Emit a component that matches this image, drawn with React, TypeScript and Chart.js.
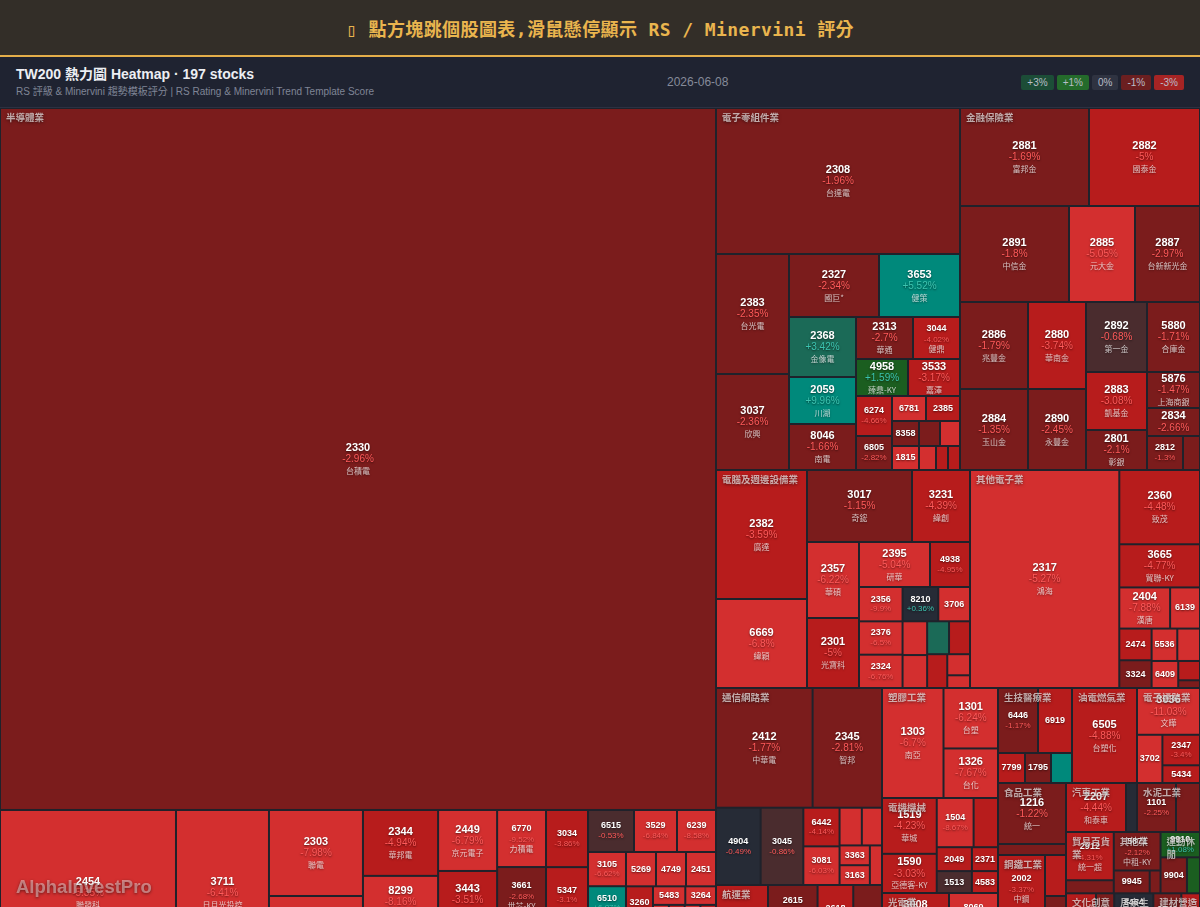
import React, { useEffect, useRef } from 'react';
import { Chart, registerables } from 'chart.js';

Chart.register(...registerables);

const TREE_W = 1200;
const TREE_H = 868;

const sectorNames = ['半導體業', '電子零組件業', '金融保險業', '電腦及週邊設備業', '其他電子業', '通信網路業', '航運業', '塑膠工業', '電機機械', '光電業', '生技醫療業', '油電燃氣業', '電子通路業', '食品工業', '鋼鐵工業', '紡織纖維', '汽車工業', '水泥工業', '貿易百貨業', '其他業', '運動休閒', '文化創意業', '化學工業', '居家生活', '玻璃陶瓷', '建材營造業', '觀光餐旅', '造紙工業'];
const sectorCounts = [47, 23, 17, 20, 12, 11, 7, 3, 8, 5, 5, 1, 4, 2, 3, 3, 2, 2, 2, 3, 3, 2, 2, 2, 1, 2, 2, 1];

const stockCodes = [
  // 半導體業
  '2330', '2454', '3711', '2303', '2379', '2344', '8299', '2408', '2449', '3443', '5274', '6770', '3661', '6488', '3034', '5347', '6415', '6515', '3529', '6239', '3105', '6510', '2337', '3583', '5269', '4749', '2451', '3260', '6147', '2441', '5483', '3264', '8016', '3227', '4966', '6462', '2388', '6104', '3006', '4919', '3035', '6533', '3131', '6187', '6643', '2436', '5285',
  // 電子零組件業
  '2308', '2383', '3037', '2327', '3653', '2368', '2059', '8046', '2313', '3044', '4958', '3533', '6274', '6805', '6781', '2385', '8358', '1815', '2492', '3376', '6213', '2456', '3023',
  // 金融保險業
  '2881', '2882', '2891', '2885', '2887', '2886', '2884', '2880', '2890', '2892', '5880', '2883', '2801', '5876', '2834', '2812', '2889',
  // 電腦及週邊設備業
  '2382', '6669', '3017', '3231', '2357', '2301', '2395', '4938', '2356', '2376', '2324', '8210', '3706', '2353', '2377', '6414', '3515', '3005', '2352', '2362',
  // 其他電子業
  '2317', '2360', '3665', '2404', '6139', '2474', '3324', '5536', '6196', '6409', '3289', '8215',
  // 通信網路業
  '2412', '2345', '4904', '3045', '6442', '3081', '4977', '3596', '3363', '3163', '6285',
  // 航運業
  '2603', '2615', '2609', '2618', '2610', '2606', '2637',
  // 塑膠工業
  '1303', '1301', '1326',
  // 電機機械
  '1519', '1590', '1504', '1503', '2049', '1513', '2371', '4583',
  // 光電業
  '3008', '2409', '8069', '3481', '6176',
  // 生技醫療業
  '6446', '6919', '7799', '1795', '6472',
  // 油電燃氣業
  '6505',
  // 電子通路業
  '3036', '3702', '2347', '5434',
  // 食品工業
  '1216', '1210',
  // 鋼鐵工業
  '2002', '2027', '2014',
  // 紡織纖維
  '1476', '1402', '1477',
  // 汽車工業
  '2207', '2201',
  // 水泥工業
  '1101', '1102',
  // 貿易百貨業
  '2912', '8454',
  // 其他業
  '5871', '9945', '9941',
  // 運動休閒
  '9910', '9904', '9914',
  // 文化創意業
  '3293', '5478',
  // 化學工業
  '1722', '1717',
  // 居家生活
  '8464', '9911',
  // 玻璃陶瓷
  '1802',
  // 建材營造業
  '2542', '5522',
  // 觀光餐旅
  '2707', '2727',
  // 造紙工業
  '1907',
];

const stockNames = [
  '台積電', '聯發科', '日月光投控', '聯電', '瑞昱', '華邦電', '群聯', '南亞科', '京元電子', '創意', '信驊', '力積電', '世芯-KY', '環球晶', '聯詠', '世界', '矽力*-KY', '穎崴', '力旺', '力成', '穩懋', '精測', '旺宏', '辛耘', '祥碩', '新應材', '創見', '威剛', '頎邦', '超豐', '中美晶', '欣銓', '矽創', '原相', '譜瑞-KY', '神盾', '威盛', '創惟', '晶豪科', '新唐', '智原', '晶心科', '弘塑', '萬潤', 'M31', '偉詮電', '界霖',
  '台達電', '台光電', '欣興', '國巨*', '健策', '金像電', '川湖', '南電', '華通', '健鼎', '臻鼎-KY', '嘉澤', '台燿', '富世達', 'AES-KY', '群光', '金居', '富喬', '華新科', '新日興', '聯茂', '奇力新', '信邦',
  '富邦金', '國泰金', '中信金', '元大金', '台新新光金', '兆豐金', '玉山金', '華南金', '永豐金', '第一金', '合庫金', '凱基金', '彰銀', '上海商銀', '臺企銀', '台中銀', '國票金',
  '廣達', '緯穎', '奇鋐', '緯創', '華碩', '光寶科', '研華', '和碩', '英業達', '技嘉', '仁寶', '勤誠', '神達', '宏碁', '微星', '樺漢', '華擎', '神基', '佳世達', '藍天',
  '鴻海', '致茂', '貿聯-KY', '漢唐', '亞翔', '可成', '雙鴻', '聖暉*', '帆宣', '旭隼', '宜特', '明基材',
  '中華電', '智邦', '遠傳', '台灣大', '光聖', '聯亞', '眾達-KY', '智易', '上詮', '波若威', '啟碁',
  '長榮', '萬海', '陽明', '長榮航', '華航', '裕民', '慧洋-KY',
  '南亞', '台塑', '台化',
  '華城', '亞德客-KY', '東元', '士電', '上銀', '中興電', '大同', '台灣精銳',
  '大立光', '友達', '元太', '群創', '瑞儀',
  '藥華藥', '康霈*', '禾榮科', '美時', '保瑞',
  '台塑化',
  '文曄', '大聯大', '聯強', '崇越',
  '統一', '大成',
  '中鋼', '大成鋼', '中鴻',
  '儒鴻', '遠東新', '聚陽',
  '和泰車', '裕隆',
  '台泥', '亞泥',
  '統一超', '富邦媒',
  '中租-KY', '潤泰新', '裕融',
  '豐泰', '寶成', '美利達',
  '鈊象', '智冠',
  '台肥', '長興',
  '億豐', '櫻花',
  '台玻',
  '興富發', '遠雄',
  '晶華', '王品',
  '永豐餘',
];

const stockCap = [
  502623, 29216, 15438, 8084, 7520, 4950, 3900, 3620, 3599, 3400, 2800, 2790, 2780, 2548, 2400, 2350, 2222, 1932, 1806, 1638, 1300, 1290, 1070, 1050, 1030, 1030, 1030, 864, 790, 766, 600, 570, 305, 304, 302, 300, 300, 299, 299, 298, 298, 297, 296, 296, 296, 296, 296,
  35624, 8760, 7008, 5670, 5103, 4020, 3149, 3082, 2394, 1974, 1925, 1924, 1440, 1224, 850, 850, 675, 648, 525, 500, 408, 288, 288,
  12642, 10878, 10464, 6336, 6240, 5916, 5508, 5046, 4698, 4270, 3710, 3538, 2440, 1908, 1484, 1224, 578,
  11739, 8099, 7560, 4176, 3952, 3640, 3195, 1800, 1496, 1452, 1452, 1224, 1088, 830, 810, 720, 690, 680, 480, 289,
  32546, 5994, 3483, 2091, 1230, 1024, 896, 832, 736, 720, 420, 168,
  11565, 8307, 3450, 3300, 1400, 1400, 840, 760, 600, 600, 480,
  4732, 2450, 2060, 2050, 1650, 1100, 1064,
  6766, 3294, 2700,
  3056, 2145, 1813, 1200, 840, 770, 624, 572,
  3015, 2546, 2352, 1000, 715,
  2600, 2210, 810, 780, 630,
  6175,
  2947, 1225, 1147, 666,
  4148, 748,
  3102, 861, 525,
  1500, 1300, 940,
  2940, 539,
  1911, 1176,
  2304, 624,
  1800, 820, 247,
  1000, 950, 470,
  1400, 850,
  900, 834,
  1100, 600,
  1537,
  900, 600,
  800, 600,
  960,
];

const stockChange = [
  -2.96, -5.35, -6.41, -7.98, -5.62, -4.94, -8.16, -6.93, -6.79, -3.51, -4.21, -9.52, -2.68, -4.57, -3.86, -3.1, -5.48, -0.53, -6.84, -8.58, -6.62, 6.87, -5.91, -4.62, -7.12, -6.25, -5.43, -4.52, -4.13, -3.82, -6.04, -5.33, -5.2, -3.9, -6.1, -4.4, -2.7, -5.6, -4.8, -3.3, -6.7, -5.1, -7.4, -4.2, -3.6, -2.9, -5.8,
  -1.96, -2.35, -2.36, -2.34, 5.52, 3.42, 9.96, -1.66, -2.7, -4.02, 1.59, -3.17, -4.66, -2.82, -5.61, -4.3, -2.52, -6.1, -2.2, -5.5, -5.8, -3.9, -4.1,
  -1.69, -5, -1.8, -5.05, -2.97, -1.79, -1.35, -3.74, -2.45, -0.68, -1.71, -3.08, -2.1, -1.47, -2.66, -1.3, -1.92,
  -3.59, -6.8, -1.15, -4.39, -6.22, -5, -5.04, -4.95, -9.9, -6.5, -6.76, 0.36, -5.31, -5.62, -6.14, 3.61, -4.22, -3.93, -5.84, -5.2,
  -5.27, -4.48, -4.77, -7.88, -8.42, -4.1, -2.31, -6.7, -5.93, -5.12, -4.4, -2.05,
  -1.77, -2.81, -0.49, -0.86, -4.14, -6.03, -6.52, -5.71, -5.93, -5.24, -5.41,
  -3.62, -1.74, -2.18, -3.27, -2.45, -1.88, -2.9,
  -6.7, -6.24, -7.67,
  -4.23, -3.03, -8.67, -4.81, -4.35, -0.79, -4.62, -4.95,
  -4.05, -2.6, -5.52, -3.9, -3.2,
  -1.17, -4.52, -4.26, -2.38, 6.12,
  -4.88,
  -11.03, -5.81, -3.4, -4.12,
  -1.22, -1.64,
  -3.37, -4.31, -2.14,
  -3.21, -2.47, -4.1,
  -4.44, -0.21,
  -2.25, -1.93,
  -4.31, -2.41,
  -2.12, -1.85, -2.6,
  1.08, -2.33, 2.1,
  -3.9, -2.4,
  -1.8, -2.6,
  -0.31, -1.5,
  -4.0,
  -2.7, -3.5,
  -1.2, -2.2,
  -2.0,
];

const legendLabels = ['+3%', '+1%', '0%', '-1%', '-3%'];
const legendColors = ['#1c4d37', '#246b2b', '#2f3341', '#6b1f20', '#a62424'];

const GAP = 1;
const NUM_FONT = '"Liberation Sans", Arial, sans-serif';
const CJK_FONT = '"Noto Sans CJK TC", "Liberation Sans", sans-serif';

type Node = { value: number; idx: number; x0: number; y0: number; x1: number; y1: number; leaves?: Node[] };

function squarify(nodes: Node[], x0: number, y0: number, x1: number, y1: number) {
  let value = nodes.reduce((s, n) => s + n.value, 0);
  let i0 = 0;
  let i1 = 0;
  const n = nodes.length;
  while (i0 < n) {
    const dx = x1 - x0;
    const dy = y1 - y0;
    let sumValue = 0;
    do { sumValue = nodes[i1++].value; } while (!sumValue && i1 < n);
    let minValue = sumValue;
    let maxValue = sumValue;
    const alpha = Math.max(dy / dx, dx / dy) / value;
    let beta = sumValue * sumValue * alpha;
    let minRatio = Math.max(maxValue / beta, beta / minValue);
    for (; i1 < n; ++i1) {
      const nv = nodes[i1].value;
      sumValue += nv;
      if (nv < minValue) minValue = nv;
      if (nv > maxValue) maxValue = nv;
      beta = sumValue * sumValue * alpha;
      const newRatio = Math.max(maxValue / beta, beta / minValue);
      if (newRatio > minRatio) { sumValue -= nv; break; }
      minRatio = newRatio;
    }
    const row = nodes.slice(i0, i1);
    if (dx < dy) {
      const ny = value ? y0 + (dy * sumValue) / value : y1;
      let cx = x0;
      const k = (x1 - x0) / sumValue;
      row.forEach((nd) => { nd.y0 = y0; nd.y1 = ny; nd.x0 = cx; cx += nd.value * k; nd.x1 = cx; });
      y0 = ny;
    } else {
      const nx = value ? x0 + (dx * sumValue) / value : x1;
      let cy = y0;
      const k = (y1 - y0) / sumValue;
      row.forEach((nd) => { nd.x0 = x0; nd.x1 = nx; nd.y0 = cy; cy += nd.value * k; nd.y1 = cy; });
      x0 = nx;
    }
    value -= sumValue;
    i0 = i1;
  }
}

function buildLayout(): Node[] {
  const groups: Node[] = [];
  let k = 0;
  sectorNames.forEach((_, s) => {
    const leaves: Node[] = [];
    for (let i = 0; i < sectorCounts[s]; i++, k++) {
      leaves.push({ value: stockCap[k], idx: k, x0: 0, y0: 0, x1: 0, y1: 0 });
    }
    leaves.sort((a, b) => b.value - a.value);
    groups.push({ value: leaves.reduce((a, b) => a + b.value, 0), idx: s, x0: 0, y0: 0, x1: 0, y1: 0, leaves });
  });
  groups.sort((a, b) => b.value - a.value);
  squarify(groups, 0, 0, TREE_W, TREE_H);
  groups.forEach((g) => squarify(g.leaves!, g.x0, g.y0, g.x1, g.y1));
  return groups;
}

function colorFor(p: number) {
  if (p >= 5) return '#00897b';
  if (p >= 3) return '#1b6a57';
  if (p >= 0.5) return '#1b5e20';
  if (p > -0.5) return '#262b36';
  if (p > -1) return '#4a2c2e';
  if (p > -3) return '#7b1c1c';
  if (p >= -5) return '#b71c1c';
  return '#d32f2f';
}

function pctText(p: number) {
  return `${p > 0 ? '+' : ''}${p}%`;
}

const treemapPlugin = {
  id: 'treemapCells',
  beforeDraw(chart: any) {
    const { ctx, width, height } = chart;
    ctx.save();
    ctx.fillStyle = '#1f222b';
    ctx.fillRect(0, 0, width, height);
    ctx.restore();
  },
  afterDatasetsDraw(chart: any) {
    const ctx: CanvasRenderingContext2D = chart.ctx;
    const xs = chart.scales.x;
    const ys = chart.scales.y;
    const groups = buildLayout();
    const toPx = (nd: Node) => {
      const X0 = xs.getPixelForValue(nd.x0);
      const X1 = xs.getPixelForValue(nd.x1);
      const Y0 = ys.getPixelForValue(nd.y0);
      const Y1 = ys.getPixelForValue(nd.y1);
      return { x: X0, y: Y0, w: X1 - X0, h: Y1 - Y0 };
    };
    ctx.save();
    ctx.textAlign = 'center';
    ctx.textBaseline = 'middle';
    groups.forEach((g) => {
      g.leaves!.forEach((leaf) => {
        const r = toPx(leaf);
        const rx = r.x + GAP;
        const ry = r.y + GAP;
        const rw = r.w - 2 * GAP;
        const rh = r.h - 2 * GAP;
        if (rw <= 0 || rh <= 0) return;
        const p = stockChange[leaf.idx];
        ctx.fillStyle = colorFor(p);
        ctx.fillRect(rx, ry, rw, rh);
        const cx = rx + rw / 2;
        const cy = ry + rh / 2;
        ctx.save();
        ctx.beginPath();
        ctx.rect(rx, ry, rw, rh);
        ctx.clip();
        ctx.shadowColor = 'rgba(0,0,0,0.55)';
        ctx.shadowBlur = 2;
        ctx.shadowOffsetY = 1;
        const pctColor = p > 0 ? '#3cc4b0' : '#ff5a5a';
        const code = stockCodes[leaf.idx];
        const name = stockNames[leaf.idx];
        if (rw >= 48.5 && rh >= 26) {
          const withName = rh >= 34;
          ctx.fillStyle = '#ffffff';
          ctx.font = `bold 11px ${NUM_FONT}`;
          ctx.fillText(code, cx, withName ? cy - 11 : cy - 6);
          ctx.fillStyle = pctColor;
          ctx.font = `10px ${NUM_FONT}`;
          ctx.fillText(pctText(p), cx, withName ? cy + 0.5 : cy + 6);
          if (withName) {
            ctx.fillStyle = 'rgba(255,255,255,0.72)';
            ctx.font = `8px ${CJK_FONT}`;
            ctx.fillText(name, cx, cy + 12);
          }
        } else if (rw >= 33 && (rh >= 28 || (rw >= 36 && rh >= 21))) {
          const withName = rw >= 44 && rh >= 35;
          ctx.fillStyle = '#ffffff';
          ctx.font = `bold 9px ${NUM_FONT}`;
          ctx.fillText(code, cx, withName ? cy - 9.5 : cy - 5);
          ctx.fillStyle = pctColor;
          ctx.font = `8px ${NUM_FONT}`;
          ctx.fillText(pctText(p), cx, withName ? cy + 1.5 : cy + 5);
          if (withName) {
            ctx.fillStyle = 'rgba(255,255,255,0.72)';
            ctx.font = `8px ${CJK_FONT}`;
            ctx.fillText(name, cx, cy + 10.5);
          }
        } else if (rw >= 23 && rh >= 14) {
          ctx.fillStyle = '#ffffff';
          ctx.font = `bold 9px ${NUM_FONT}`;
          ctx.fillText(code, cx, cy);
        }
        ctx.restore();
      });
    });
    // sector labels
    ctx.textAlign = 'left';
    ctx.textBaseline = 'middle';
    groups.forEach((g) => {
      const r = toPx(g);
      ctx.save();
      ctx.beginPath();
      ctx.rect(r.x, r.y, r.w, r.h);
      ctx.clip();
      ctx.font = `bold 9.5px ${CJK_FONT}`;
      ctx.fillStyle = 'rgba(232,228,228,0.72)';
      ctx.shadowColor = 'rgba(0,0,0,0.7)';
      ctx.shadowBlur = 3;
      ctx.shadowOffsetY = 1;
      const maxW = r.w - 8;
      const text = sectorNames[g.idx];
      const lines: string[] = [];
      let cur = '';
      for (const ch of Array.from(text)) {
        if (cur && ctx.measureText(cur + ch).width > maxW) { lines.push(cur); cur = ch; } else cur += ch;
      }
      if (cur) lines.push(cur);
      lines.forEach((ln, i) => ctx.fillText(ln, r.x + 6, r.y + 9.5 + i * 12.5));
      ctx.restore();
    });
    ctx.restore();
  },
};

export default function App() {
  const canvasRef = useRef<HTMLCanvasElement>(null);

  useEffect(() => {
    if (!canvasRef.current) return;
    const chart = new Chart(canvasRef.current, {
      type: 'scatter',
      data: { datasets: [{ data: [], pointRadius: 0 }] },
      options: {
        animation: false,
        responsive: false,
        maintainAspectRatio: false,
        devicePixelRatio: 1,
        events: [],
        layout: { padding: 0 },
        plugins: { legend: { display: false }, tooltip: { enabled: false }, title: { display: false } },
        scales: {
          x: { type: 'linear', min: 0, max: TREE_W, display: false },
          y: { type: 'linear', min: 0, max: TREE_H, reverse: true, display: false },
        },
      },
      plugins: [treemapPlugin as any],
    });
    return () => chart.destroy();
  }, []);

  return (
    <div style={{ width: 1200, height: 907, overflow: 'hidden', position: 'relative', background: '#1f222b', fontFamily: NUM_FONT }}>
      <style>{'html,body{margin:0;padding:0;background:#1f222b;overflow:hidden;}'}</style>
      <div
        style={{
          height: 55,
          background: '#332e28',
          borderBottom: '2px solid #e4ae4a',
          display: 'flex',
          alignItems: 'center',
          justifyContent: 'center',
          color: '#eab54e',
          fontFamily: '"DejaVu Sans Mono", "Noto Sans CJK TC", monospace',
          fontWeight: 'bold',
          fontSize: 18,
          letterSpacing: 0.4,
        }}
      >
        ▯ 點方塊跳個股圖表,滑鼠懸停顯示 RS / Minervini 評分
      </div>
      <div
        style={{
          height: 50,
          background: '#1f2331',
          borderBottom: '1px solid #2c3142',
          display: 'flex',
          alignItems: 'center',
          justifyContent: 'space-between',
          padding: '0 16px',
          boxSizing: 'content-box',
          width: 1168,
        }}
      >
        <div>
          <div style={{ color: '#eceef3', fontWeight: 'bold', fontSize: 14, lineHeight: '18px', fontFamily: `"Liberation Sans", Arial, "Noto Sans CJK TC", sans-serif` }}>
            TW200 熱力圖 Heatmap · 197 stocks
          </div>
          <div style={{ color: '#7f8596', fontSize: 10, lineHeight: '14px', marginTop: 2, fontFamily: `"Liberation Sans", Arial, "Noto Sans CJK TC", sans-serif` }}>
            RS 評級 &amp; Minervini 趨勢模板評分 | RS Rating &amp; Minervini Trend Template Score
          </div>
        </div>
        <div style={{ color: '#868b9a', fontSize: 12 }}>2026-06-08</div>
        <div style={{ display: 'flex', gap: 3 }}>
          {legendLabels.map((l, i) => (
            <span
              key={l}
              style={{ background: legendColors[i], color: '#b9bdc7', fontSize: 10, lineHeight: '15px', padding: '0 6px', borderRadius: 2 }}
            >
              {l}
            </span>
          ))}
        </div>
      </div>
      <div style={{ height: 799, overflow: 'hidden', position: 'relative' }}>
        <canvas ref={canvasRef} width={TREE_W} height={TREE_H} style={{ display: 'block', width: TREE_W, height: TREE_H }} />
        <div
          style={{
            position: 'absolute',
            left: 16,
            top: 769,
            fontSize: 18.5,
            lineHeight: '20px',
            fontWeight: 'bold',
            color: 'rgba(255,255,255,0.42)',
            textShadow: '0 1px 3px rgba(0,0,0,0.5)',
            fontFamily: NUM_FONT,
            pointerEvents: 'none',
          }}
        >
          AlphaInvestPro
        </div>
      </div>
    </div>
  );
}
